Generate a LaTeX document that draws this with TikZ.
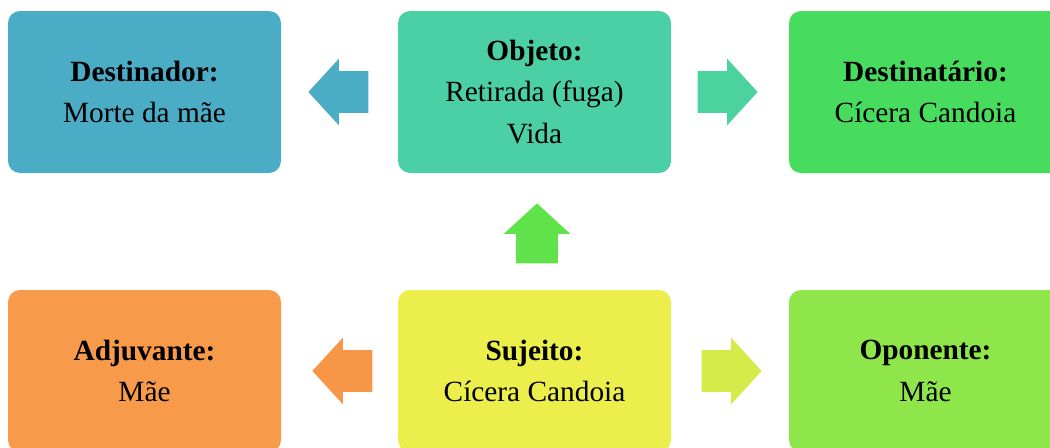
\documentclass[tikz,border=0pt]{standalone}
\usepackage{fontspec}
\setmainfont{Liberation Serif}
\usetikzlibrary{shapes.arrows}
\definecolor{cDestinador}{HTML}{4BACC6}
\definecolor{cObjeto}{HTML}{4BD0A5}
\definecolor{cDestinatario}{HTML}{47DC5D}
\definecolor{cAdjuvante}{HTML}{F79A4A}
\definecolor{cSujeito}{HTML}{EBEE4B}
\definecolor{cOponente}{HTML}{8FE64A}
\definecolor{aRight}{HTML}{4CD29E}
\definecolor{aUp}{HTML}{60E34A}
\definecolor{aLeftB}{HTML}{F79646}
\definecolor{aRightB}{HTML}{D5EB4A}
\tikzset{
  actbox/.style={rectangle, rounded corners=9pt, minimum width=204.75pt, minimum height=121.5pt,
    align=center, inner sep=0pt, font=\fontsize{22}{31}\selectfont},
  blockarrow/.style={single arrow, draw=none, minimum height=45pt, inner xsep=0pt,
    inner ysep=15.4pt, single arrow head extend=9.4pt, single arrow tip angle=95},
  uparrow/.style={blockarrow, inner xsep=15.4pt, inner ysep=0pt, shape border rotate=90}
}
\begin{document}
\begin{tikzpicture}[x=0.75pt,y=-0.75pt]
\useasboundingbox (0,0) rectangle (1050,447);
\clip (0,0) rectangle (1050,447);
\node[actbox, fill=cDestinador] (dest) at (144.5,92) {\textbf{Destinador:}\\Morte da mãe};
\node[actbox, fill=cObjeto] (obj) at (534.5,92) {\textbf{Objeto:}\\Retirada (fuga)\\Vida};
\node[actbox, fill=cDestinatario] (desti) at (925.5,92) {\textbf{Destinatário:}\\Cícera Candoia};
\node[actbox, fill=cAdjuvante] (adj) at (144.5,371) {\textbf{Adjuvante:}\\Mãe};
\node[actbox, fill=cSujeito] (suj) at (534.5,371) {\textbf{Sujeito:}\\Cícera Candoia};
\node[actbox, fill=cOponente] (opo) at (925.5,371) {\textbf{Oponente:}\\Mãe};
\node[blockarrow, fill=cDestinador, shape border rotate=180, anchor=tip] (a1) at (308,92) {};
\node[blockarrow, fill=aRight, anchor=tip] (a2) at (758,92) {};
\node[uparrow, fill=aUp, anchor=tip] (a3) at (537,203) {};
\node[blockarrow, fill=aLeftB, shape border rotate=180, anchor=tip] (a4) at (312,371) {};
\node[blockarrow, fill=aRightB, anchor=tip] (a5) at (762,371) {};
\end{tikzpicture}
\end{document}
